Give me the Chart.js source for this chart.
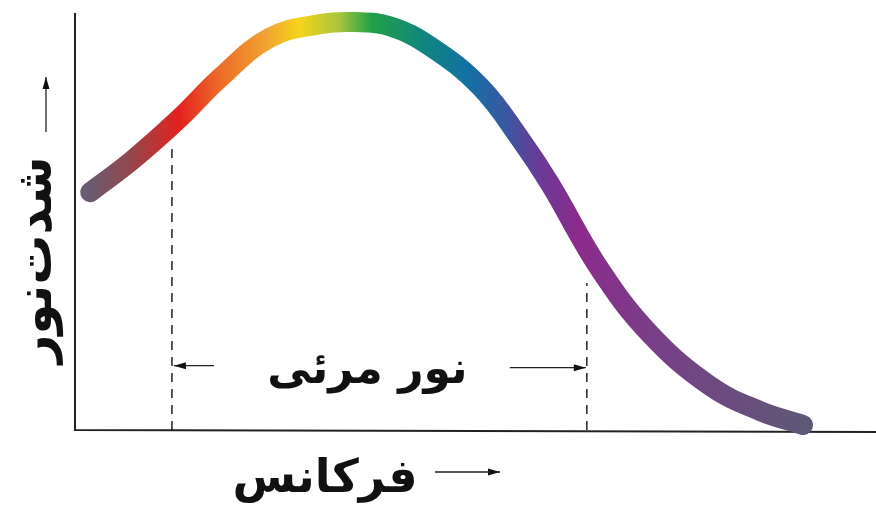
<!DOCTYPE html>
<html lang="fa">
<head>
<meta charset="utf-8">
<title>شدت نور - فرکانس</title>
<script src="https://cdn.jsdelivr.net/npm/chart.js@4/dist/chart.umd.min.js"></script>
<style>
    html, body { margin: 0; padding: 0; background: #fff; }
    #wrap { width: 876px; height: 511px; }
</style>
</head>
<body>
<div id="wrap"><canvas id="spectrum" width="876" height="511"></canvas></div>
<script>
// Curve (frequency 0-100, intensity 0-100)
const frequency = [1.9, 7.2, 13.1, 18.1, 24.3, 30.6, 35.0, 39.3, 44.3, 50.6, 55.6, 59.3, 65.5, 71.8, 79.3, 85.5, 90.9];
const intensity = [57.3, 65.1, 75.2, 84.8, 94.5, 97.8, 98.3, 97.3, 92.5, 82.7, 70.1, 59.3, 38.8, 23.1, 10.6, 4.6, 1.2];

// Edges of the visible band and the height of the dashed markers
const visibleBounds = [12.1, 63.9];
const markerTops = [69.2, 35.4];

// Text
const visibleLabel = 'نور مرئی';
const xTitle = 'فرکانس';
const yTitle = 'شدت\u200cنور';

// Colour of the curve along the frequency axis
const gradientStops = [
    [1.9, '#6a5a70'],
    [7.0, '#94474d'],
    [13.0, '#e3211f'],
    [18.0, '#ee6a28'],
    [24.0, '#f1a431'],
    [28.0, '#f6d419'],
    [33.0, '#a7c53c'],
    [37.0, '#22a046'],
    [43.0, '#12887a'],
    [49.0, '#1270a4'],
    [54.0, '#3c56a2'],
    [58.0, '#6a3a96'],
    [63.0, '#8c2a8c'],
    [72.0, '#793f88'],
    [91.0, '#5e5876']
];

const curve = frequency.map((f, i) => ({ x: f, y: intensity[i] }));

function curveGradient(context) {
    const chart = context.chart;
    const area = chart.chartArea;
    if (!area) return '#888';
    const xs = chart.scales.x;
    const x0 = xs.getPixelForValue(0);
    const x1 = xs.getPixelForValue(100);
    const g = chart.ctx.createLinearGradient(x0, 0, x1, 0);
    gradientStops.forEach(s => g.addColorStop(s[0] / 100, s[1]));
    return g;
}

function arrow(ctx, x1, y1, x2, y2) {
    // straight shaft with a small filled head at (x2, y2)
    const a = Math.atan2(y2 - y1, x2 - x1);
    ctx.beginPath();
    ctx.moveTo(x1, y1);
    ctx.lineTo(x2, y2);
    ctx.stroke();
    ctx.beginPath();
    ctx.moveTo(x2, y2);
    ctx.lineTo(x2 - 12 * Math.cos(a) + 3.5 * Math.sin(a), y2 - 12 * Math.sin(a) - 3.5 * Math.cos(a));
    ctx.lineTo(x2 - 12 * Math.cos(a) - 3.5 * Math.sin(a), y2 - 12 * Math.sin(a) + 3.5 * Math.cos(a));
    ctx.closePath();
    ctx.fill();
}

// Axes lines, titles and the visible-light annotation
const decorations = {
    id: 'decorations',
    beforeDatasetsDraw(chart) {
        const { ctx, chartArea } = chart;
        ctx.save();
        ctx.strokeStyle = '#222';
        ctx.lineWidth = 2;
        ctx.beginPath();
        ctx.moveTo(chartArea.left, chartArea.top - 2);
        ctx.lineTo(chartArea.left, chartArea.bottom);
        ctx.lineTo(chartArea.right, chartArea.bottom + 2);
        ctx.stroke();
        ctx.restore();
    },
    afterDatasetsDraw(chart) {
        const { ctx, chartArea, scales } = chart;
        const xs = scales.x, ys = scales.y;
        ctx.save();
        ctx.fillStyle = '#111';
        ctx.strokeStyle = '#222';
        ctx.lineWidth = 1.3;
        ctx.textAlign = 'center';
        ctx.textBaseline = 'middle';

        // visible light band
        const left = xs.getPixelForValue(visibleBounds[0]);
        const right = xs.getPixelForValue(visibleBounds[1]);
        const mid = (left + right) / 2 - 12;
        const ay = ys.getPixelForValue(15.5);
        arrow(ctx, left + 42, ay, left + 2, ay);
        arrow(ctx, right - 77, ay + 2, right - 1, ay + 2);
        ctx.font = 'bold 44px "DejaVu Sans"';
        ctx.fillText(visibleLabel, mid, ay + 6);

        // x title
        ctx.font = 'bold 46px "DejaVu Sans"';
        ctx.fillText(xTitle, chartArea.left + 250, chartArea.bottom + 50);
        arrow(ctx, chartArea.left + 360, chartArea.bottom + 42, chartArea.left + 425, chartArea.bottom + 42);

        // y title
        ctx.save();
        ctx.font = 'bold 50px "DejaVu Sans"';
        ctx.translate(chartArea.left - 37, chartArea.top + 245);
        ctx.rotate(-Math.PI / 2);
        ctx.fillText(yTitle, 0, 0);
        ctx.restore();
        arrow(ctx, chartArea.left - 29, chartArea.top + 117, chartArea.left - 29, chartArea.top + 62);
        ctx.restore();
    }
};

new Chart(document.getElementById('spectrum'), {
    type: 'line',
    data: {
        datasets: [
            {
                data: curve,
                borderColor: curveGradient,
                borderWidth: 20,
                borderCapStyle: 'round',
                borderJoinStyle: 'round',
                tension: 0.4,
                pointRadius: 0,
                clip: false
            },
            {
                data: [{ x: visibleBounds[0], y: 0 }, { x: visibleBounds[0], y: markerTops[0] }],
                borderColor: '#222',
                borderWidth: 1.5,
                borderDash: [9, 7],
                pointRadius: 0
            },
            {
                data: [{ x: visibleBounds[1], y: 0 }, { x: visibleBounds[1], y: markerTops[1] }],
                borderColor: '#222',
                borderWidth: 1.5,
                borderDash: [9, 7],
                pointRadius: 0
            }
        ]
    },
    options: {
        responsive: false,
        animation: false,
        layout: { padding: { left: 75, right: 0, top: 15, bottom: 81 } },
        scales: {
            x: { type: 'linear', min: 0, max: 100, display: false },
            y: { min: 0, max: 100, display: false }
        },
        plugins: {
            legend: { display: false },
            tooltip: { enabled: false }
        }
    },
    plugins: [decorations]
});
</script>
</body>
</html>
